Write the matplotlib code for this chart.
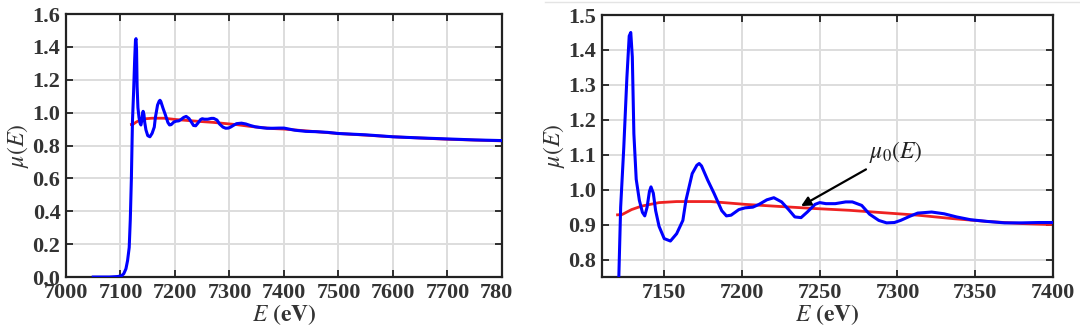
import numpy as np
import matplotlib.pyplot as plt
from matplotlib.patches import Rectangle
from matplotlib.lines import Line2D

# ---------- Data ----------
E_mu = [7050, 7080, 7095, 7102, 7106, 7110, 7113, 7116, 7118, 7120, 7121, 7122,
        7124, 7126, 7127.5, 7128.5, 7129.5, 7130.5, 7132, 7134, 7136, 7137.5,
        7139, 7140.5, 7141.5, 7143, 7144.5, 7146.7, 7150, 7154, 7158, 7162,
        7164, 7168, 7171, 7172.5, 7174, 7178, 7182, 7187, 7190, 7193, 7198, 7202, 7207,
        7211, 7216, 7220.5, 7225.5, 7230, 7234, 7238, 7242, 7247, 7250, 7254,
        7260, 7266.7, 7271, 7277, 7282, 7288, 7293, 7298, 7302, 7308, 7313,
        7322, 7330, 7338, 7347, 7358, 7369, 7380, 7391, 7400, 7420, 7440, 7460,
        7480, 7500, 7550, 7600, 7650, 7700, 7750, 7800]
mu = [0.0, 0.0, 0.003, 0.008, 0.02, 0.05, 0.10, 0.18, 0.35, 0.60, 0.78, 0.95,
      1.12, 1.32, 1.44, 1.45, 1.38, 1.16, 1.03, 0.97, 0.935, 0.925,
      0.95, 0.995, 1.008, 0.99, 0.94, 0.895, 0.86, 0.853, 0.874, 0.912,
      0.97, 1.046, 1.070, 1.075, 1.068, 1.027, 0.99, 0.94, 0.925, 0.927, 0.943, 0.948, 0.950,
      0.958, 0.971, 0.977, 0.965, 0.943, 0.922, 0.920, 0.936, 0.958, 0.963, 0.960,
      0.960, 0.965, 0.965, 0.955, 0.930, 0.912, 0.905, 0.906, 0.912, 0.924, 0.933,
      0.936, 0.931, 0.922, 0.914, 0.909, 0.905, 0.905, 0.906, 0.906, 0.893, 0.886, 0.884,
      0.880, 0.873, 0.865, 0.853, 0.846, 0.840, 0.834, 0.830]

E_mu0 = [7120, 7123, 7129, 7135.5, 7146.7, 7158, 7180, 7202, 7224, 7247, 7269,
         7291, 7313, 7336, 7358, 7380, 7400, 7500, 7600, 7700, 7800]
mu0 = [0.928, 0.929, 0.943, 0.953, 0.963, 0.966, 0.966, 0.958, 0.952, 0.946, 0.941,
       0.934, 0.927, 0.917, 0.909, 0.903, 0.900, 0.873, 0.853, 0.838, 0.828]

# ---------- Style ----------
plt.rcParams['font.family'] = ['Liberation Serif', 'DejaVu Serif']
plt.rcParams['mathtext.fontset'] = 'stix'
plt.rcParams['font.size'] = 16

fig = plt.figure(figsize=(10.8, 3.31), dpi=100)
ax1 = fig.add_axes([0.0611, 0.1631, 0.4037, 0.7946])
ax2 = fig.add_axes([0.5574, 0.1631, 0.4176, 0.7915])


def style(ax):
    ax.grid(True, color='#dddddd', linewidth=1.4)
    ax.set_axisbelow(True)
    for s in ax.spines.values():
        s.set_linewidth(1.6)
        s.set_color('#222222')
    ax.tick_params(direction='in', length=5, width=1.3, top=True, right=True,
                   labelsize=16, pad=4, colors='#222222', labelcolor='#333333')
    for lbl in ax.get_xticklabels() + ax.get_yticklabels():
        lbl.set_fontweight('bold')
    ax.set_xlabel(r'$E\ \mathbf{(eV)}$', fontsize=17, labelpad=0, color='#333333')
    ax.set_ylabel(r'$\mu(E)$', fontsize=17, labelpad=1, color='#333333')


for ax in (ax1, ax2):
    ax.plot(E_mu0, mu0, color='#ee2222', linewidth=2.0, zorder=2)
    ax.plot(E_mu, mu, color='#0000ff', linewidth=2.2, zorder=3)

ax1.set_xlim(7000, 7800)
ax1.set_ylim(0, 1.6)
ax1.set_xticks(np.arange(7000, 7801, 100))
ax1.set_yticks(np.arange(0, 1.61, 0.2))
ax1.set_yticklabels([f'{v:.1f}' for v in np.arange(0, 1.61, 0.2)])

ax2.set_xlim(7110, 7400)
ax2.set_ylim(0.75, 1.5)
ax2.set_xticks(np.arange(7150, 7401, 50))
ax2.set_yticks(np.arange(0.8, 1.51, 0.1))
ax2.set_yticklabels([f'{v:.1f}' for v in np.arange(0.8, 1.51, 0.1)])

for ax in (ax1, ax2):
    style(ax)

ax2.annotate(r'$\mu_0(E)$', xy=(7238, 0.953), xytext=(7282, 1.09),
             fontsize=17, color='#222222',
             arrowprops=dict(arrowstyle='-|>', color='black', lw=1.6,
                             mutation_scale=14, shrinkA=2, shrinkB=0))

# the left picture is cut off at its right edge in the source figure
fig.add_artist(Rectangle((513 / 1080, 0), 40 / 1080, 0.16, transform=fig.transFigure,
                         facecolor='white', edgecolor='none', zorder=10))
fig.add_artist(Line2D([545 / 1080, 1], [0.994, 0.994], color='#e4e4e4', lw=1.0,
                      transform=fig.transFigure))

fig.savefig('out.png', dpi=100)
